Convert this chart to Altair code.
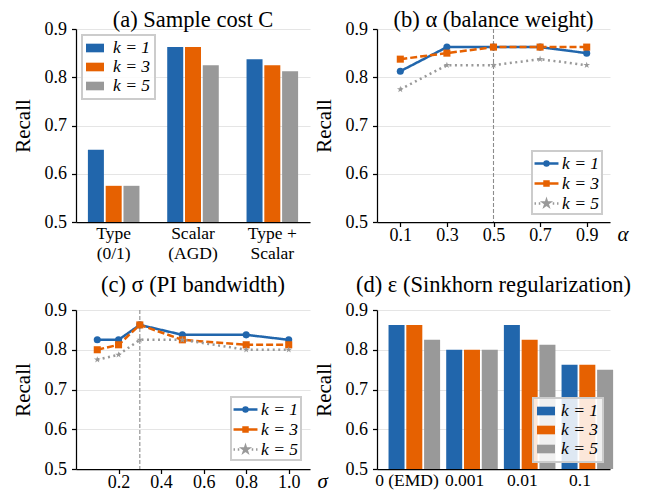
import altair as alt
import pandas as pd

FONT = "Liberation Serif"

# ---------------- data ----------------
k_labels = ["k = 1", "k = 3", "k = 5"]
k_colors = ["#2166ac", "#e66101", "#999999"]

cost_cats = ["Type\n(0/1)", "Scalar\n(AGD)", "Type +\nScalar"]
cost_k1 = [0.65, 0.8625, 0.8375]
cost_k3 = [0.575, 0.8625, 0.825]
cost_k5 = [0.575, 0.825, 0.8125]

alpha_vals = [0.1, 0.3, 0.5, 0.7, 0.9]
alpha_k1 = [0.8125, 0.8625, 0.8625, 0.8625, 0.85]
alpha_k3 = [0.8375, 0.85, 0.8625, 0.8625, 0.8625]
alpha_k5 = [0.775, 0.825, 0.825, 0.8375, 0.825]
alpha_best = [0.5]

sigma_vals = [0.1, 0.2, 0.3, 0.5, 0.8, 1.0]
sigma_k1 = [0.825, 0.825, 0.8625, 0.8375, 0.8375, 0.825]
sigma_k3 = [0.8, 0.8125, 0.8625, 0.825, 0.8125, 0.8125]
sigma_k5 = [0.775, 0.7875, 0.825, 0.825, 0.8, 0.8]
sigma_best = [0.3]

eps_cats = ["0 (EMD)", "0.001", "0.01", "0.1"]
eps_k1 = [0.8625, 0.8, 0.8625, 0.7625]
eps_k3 = [0.8625, 0.8, 0.825, 0.7625]
eps_k5 = [0.825, 0.8, 0.8125, 0.75]

y_ticks = [0.5, 0.6, 0.7, 0.8, 0.9]


def long_df(xs, series):
    rows = []
    for lab, vals in zip(k_labels, series):
        for x, v in zip(xs, vals):
            rows.append({"x": x, "recall": v, "k": lab})
    return pd.DataFrame(rows)


STAR = ("M0,-1L0.2245,-0.309L0.951,-0.309L0.363,0.118L0.588,0.809L0,0.382"
        "L-0.588,0.809L-0.363,0.118L-0.951,-0.309L-0.2245,-0.309Z")
RECT = "M-1,-0.48H1V0.48H-1Z"
# legend glyphs: line segment plus marker (units: 9 px)
LEG_PATHS = [
    "M-1.33,0H1.33M-0.22,0A0.22,0.22 0 1,0 0.22,0A0.22,0.22 0 1,0 -0.22,0Z"
    "M-0.09,0A0.09,0.09 0 1,0 0.09,0A0.09,0.09 0 1,0 -0.09,0Z",
    "M-1.33,0H1.33M-0.22,-0.22H0.22V0.22H-0.22ZM-0.08,-0.08H0.08V0.08H-0.08Z",
    "M-1.33,0H-1.17M-0.86,0H-0.69M0.69,0H0.86M1.17,0H1.33"
    "M0,-0.32L0.072,-0.099L0.304,-0.099L0.116,0.037L0.188,0.259L0,0.123"
    "L-0.188,0.259L-0.116,0.037L-0.304,-0.099L-0.072,-0.099Z",
]


def cscale():
    return alt.Scale(domain=k_labels, range=k_colors)


def yenc():
    return alt.Y("recall:Q",
                 scale=alt.Scale(domain=[0.5, 0.9], nice=False, zero=False),
                 axis=alt.Axis(values=y_ticks, format=".1f", title="Recall", grid=True))


def bar_panel(cats, series, title, w, h, orient, offset, pi, po, title_off, lab_off):
    df = long_df(cats, series)
    legend = alt.Legend(title=None, orient=orient, offset=offset, symbolType=RECT,
                        symbolSize=324, symbolStrokeWidth=0, labelFontStyle="italic",
                        labelOffset=lab_off)
    return alt.Chart(df).mark_bar().encode(
        x=alt.X("x:N", sort=cats,
                scale=alt.Scale(paddingInner=pi, paddingOuter=po),
                axis=alt.Axis(title=None, labelAngle=0, ticks=False, grid=False,
                              labelPadding=2, labelLineHeight=20, labelFontSize=17.5,
                              labelExpr="split(datum.label, '\\n')")),
        xOffset=alt.XOffset("k:N", sort=k_labels, scale=alt.Scale(paddingInner=0.1)),
        y=yenc(),
        y2=alt.datum(0.5),
        color=alt.Color("k:N", scale=cscale(), legend=legend),
    ).properties(width=w, height=h,
                 title=alt.Title(title, offset=title_off, frame="group"))


def line_panel(xs, series, best, domain, ticks, title, xtitle, w, h, offset, title_off):
    df = long_df(xs, series)
    x = alt.X("x:Q", scale=alt.Scale(domain=domain, nice=False, zero=False),
              axis=alt.Axis(values=ticks, format=".1f", grid=False, title=xtitle,
                            labelPadding=0,
                            titleAngle=0, titleAlign="left", titleBaseline="alphabetic",
                            titleX=w + 7, titleY=18, titleFontStyle="italic",
                            titleFontSize=21))
    y = yenc()
    rule = alt.Chart(pd.DataFrame({"x": best})).mark_rule(
        color="#8c8c8c", strokeWidth=1.1, strokeDash=[4, 2]).encode(x=x)
    lines = alt.Chart(df).mark_line(strokeWidth=2.5).encode(
        x=x, y=y,
        color=alt.Color("k:N", scale=cscale(), legend=None),
        strokeDash=alt.StrokeDash("k:N", scale=alt.Scale(domain=k_labels,
                                                         range=[[1, 0], [7, 3], [2, 3.5]]),
                                  legend=None),
    )
    pts = alt.Chart(df).mark_point(filled=True, opacity=1, size=50).encode(
        x=x, y=y,
        color=alt.Color("k:N", scale=cscale(), legend=None),
        shape=alt.Shape("k:N", scale=alt.Scale(domain=k_labels,
                                               range=["circle", "square", STAR]),
                        legend=None),
    )
    lg = dict(title=None, orient="bottom-right", offset=offset, symbolSize=324,
              symbolStrokeWidth=2.5, labelFontStyle="italic", symbolOffset=2,
              labelOffset=5, padding=2, rowPadding=1)
    leg = alt.Chart(df).transform_filter("false").mark_point(
        filled=False, opacity=1, size=324, strokeWidth=2.5).encode(
        x=x, y=y,
        color=alt.Color("k:N", scale=cscale(), legend=alt.Legend(**lg)),
        shape=alt.Shape("k:N", scale=alt.Scale(domain=k_labels, range=LEG_PATHS),
                        legend=alt.Legend(**lg)),
    )
    return alt.layer(rule, lines, pts, leg).resolve_scale(
        shape="independent", color="independent").properties(
        width=w, height=h, title=alt.Title(title, offset=title_off, frame="group"))


pa = bar_panel(cost_cats, [cost_k1, cost_k3, cost_k5], "(a) Sample cost C",
               234, 193, "top-left", 6, 0.35, 0.15, -11, 9)
pb = line_panel(alpha_vals, [alpha_k1, alpha_k3, alpha_k5], alpha_best, [0, 1.0],
                [0.1, 0.3, 0.5, 0.7, 0.9], "(b) α (balance weight)", "α",
                233, 193, 8, -11)
pc = line_panel(sigma_vals, [sigma_k1, sigma_k3, sigma_k5], sigma_best, [0, 1.1],
                [0.2, 0.4, 0.6, 0.8, 1.0], "(c) σ (PI bandwidth)", "σ",
                234, 159, 9, 5)
pd_ = bar_panel(eps_cats, [eps_k1, eps_k3, eps_k5], "(d) ε (Sinkhorn regularization)",
                233, 159, "bottom-right", 7, 0.36, 0.2, 5, 6)

chart = alt.concat(pa, pb, pc, pd_, columns=2, spacing={"row": 88, "column": 67},
                   bounds="flush").resolve_scale(
    color="independent", shape="independent", strokeDash="independent"
).properties(
    padding={"left": 4, "top": 0, "right": 0, "bottom": 0}
).configure(font=FONT).configure_view(stroke=None).configure_axis(
    labelFont=FONT, titleFont=FONT, labelFontSize=18, titleFontSize=21,
    titleFontWeight="normal", labelColor="black", titleColor="black",
    domainColor="black", tickColor="black", domainWidth=1.25, tickWidth=1.25,
    tickSize=4.5, gridColor="#e5e5e5", gridWidth=1.2, labelPadding=5
).configure_axisY(titlePadding=11).configure_title(
    font=FONT, fontSize=22.5, fontWeight="normal", anchor="middle", color="black"
).configure_legend(
    labelFont=FONT, labelFontSize=17.5, labelColor="black", strokeColor="#cccccc",
    strokeWidth=2, fillColor="rgba(255,255,255,0.85)", padding=4, rowPadding=1,
    labelOffset=6, cornerRadius=0
)

chart.save("out.html", embed_options={"renderer": "svg", "actions": False})
